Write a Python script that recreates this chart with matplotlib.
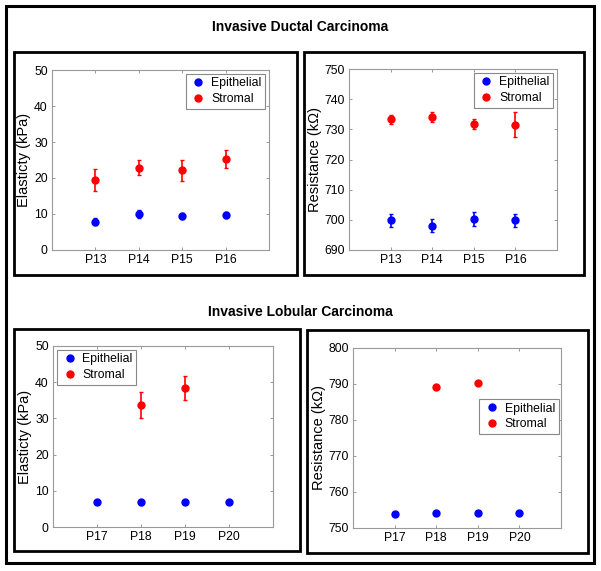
import numpy as np
import matplotlib
matplotlib.use("Agg")
import matplotlib.pyplot as plt
from matplotlib.patches import Rectangle

plt.rcParams['font.family'] = ['Liberation Sans', 'DejaVu Sans']

# Invasive Ductal Carcinoma
idc_patients = ["P13", "P14", "P15", "P16"]
idc_epi_elast = [7.9, 10.0, 9.4, 9.7]
idc_epi_elast_err = [0.9, 1.1, 0.9, 0.8]
idc_str_elast = [19.4, 22.8, 22.1, 25.3]
idc_str_elast_err = [3.1, 2.1, 3.0, 2.4]
idc_epi_res = [699.8, 698.1, 700.4, 699.8]
idc_epi_res_err = [2.2, 2.2, 2.3, 2.2]
idc_str_res = [733.3, 734.1, 731.7, 731.6]
idc_str_res_err = [1.6, 1.6, 1.6, 4.2]

# Invasive Lobular Carcinoma
ilc_patients = ["P17", "P18", "P19", "P20"]
ilc_epi_elast = [7.0, 6.8, 7.0, 6.8]
ilc_epi_elast_err = [0.5, 0.6, 0.5, 0.5]
ilc_str_patients = ["P18", "P19"]
ilc_str_elast = [33.8, 38.3]
ilc_str_elast_err = [3.6, 3.3]
ilc_epi_res = [753.9, 754.1, 754.1, 754.3]
ilc_epi_res_err = [0.3, 0.3, 0.3, 0.3]
ilc_str_res = [789.1, 790.4]
ilc_str_res_err = [0.5, 0.4]

W, H = 601, 571
fig = plt.figure(figsize = (W / 100, H / 100), dpi = 100)


def box(x0, y0, x1, y1, lw):
    # pixel coords (top-left origin) -> figure fraction
    rect = Rectangle((x0 / W, 1 - y1 / H), (x1 - x0) / W, (y1 - y0) / H,
                     transform = fig.transFigure, fill = False,
                     edgecolor = 'black', linewidth = lw, zorder = 0)
    fig.patches.append(rect)


def make_axes(x0, y0, x1, y1):
    return fig.add_axes([x0 / W, 1 - y1 / H, (x1 - x0) / W, (y1 - y0) / H])


def panel(ax, patients, epi, epi_err, str_x, stro, str_err,
          ylim, ylabel, legend_kw):
    x = np.arange(1, len(patients) + 1)
    xs = [patients.index(p) + 1 for p in str_x]
    h1 = ax.errorbar(x, epi, yerr = epi_err, fmt = 'o', color = 'blue',
                     markersize = 5, capsize = 1.5, elinewidth = 1.2,
                     capthick = 1.0, label = 'Epithelial')
    h2 = ax.errorbar(xs, stro, yerr = str_err, fmt = 'o', color = 'red',
                     markersize = 5, capsize = 1.5, elinewidth = 1.2,
                     capthick = 1.0, label = 'Stromal')
    ax.set_xlim(0, len(patients) + 1)
    ax.set_ylim(*ylim)
    ax.set_xticks(x)
    ax.set_xticklabels(patients)
    ax.set_ylabel(ylabel, fontsize = 10.5, labelpad = 2)
    ax.tick_params(direction = 'in', top = True, right = True, length = 2.5,
                   width = 0.6, color = '#888888', labelsize = 8.8, pad = 3)
    for s in ax.spines.values():
        s.set_color('#999999')
        s.set_linewidth(0.8)
    leg = ax.legend(handles = [h1[0], h2[0]], labels = ['Epithelial', 'Stromal'],
                    fontsize = 8.8, fancybox = False, framealpha = 1,
                    handletextpad = 0.3, borderpad = 0.3, labelspacing = 0.3,
                    handlelength = 1.5, **legend_kw)
    leg.get_frame().set_edgecolor('#888888')
    leg.get_frame().set_linewidth(0.8)


# frames
box(6, 6, 594, 563, 2.2)
box(14, 52, 297, 275, 2.0)
box(304, 52, 584, 275, 2.0)
box(14, 329, 300, 551, 2.0)
box(307, 330, 588, 553, 2.0)

fig.text(300 / W, 1 - 27 / H, "Invasive Ductal Carcinoma", ha = 'center',
         va = 'center', fontsize = 10, fontweight = 'bold')
fig.text(300 / W, 1 - 312 / H, "Invasive Lobular Carcinoma", ha = 'center',
         va = 'center', fontsize = 10, fontweight = 'bold')

ax1 = make_axes(52, 70, 269, 250)
panel(ax1, idc_patients, idc_epi_elast, idc_epi_elast_err, idc_patients,
      idc_str_elast, idc_str_elast_err, (0, 50), "Elasticty (kPa)",
      dict(loc = 'upper right', borderaxespad = 0.3))
ax1.set_yticks(np.arange(0, 51, 10))

ax2 = make_axes(349, 69, 557, 250)
panel(ax2, idc_patients, idc_epi_res, idc_epi_res_err, idc_patients,
      idc_str_res, idc_str_res_err, (690, 750), "Resistance (k\u03a9)",
      dict(loc = 'upper right', borderaxespad = 0.3))
ax2.set_yticks(np.arange(690, 751, 10))

ax3 = make_axes(53, 346, 273, 527)
panel(ax3, ilc_patients, ilc_epi_elast, ilc_epi_elast_err, ilc_str_patients,
      ilc_str_elast, ilc_str_elast_err, (0, 50), "Elasticty (kPa)",
      dict(loc = 'upper left', borderaxespad = 0.3))
ax3.set_yticks(np.arange(0, 51, 10))

ax4 = make_axes(353, 348, 561, 528)
panel(ax4, ilc_patients, ilc_epi_res, ilc_epi_res_err, ilc_str_patients,
      ilc_str_res, ilc_str_res_err, (750, 800), "Resistance (k\u03a9)",
      dict(loc = 'center right', bbox_to_anchor = (0.99, 0.62),
           borderaxespad = 0))
ax4.set_yticks(np.arange(750, 801, 10))

fig.savefig("out.png", dpi = 100)
